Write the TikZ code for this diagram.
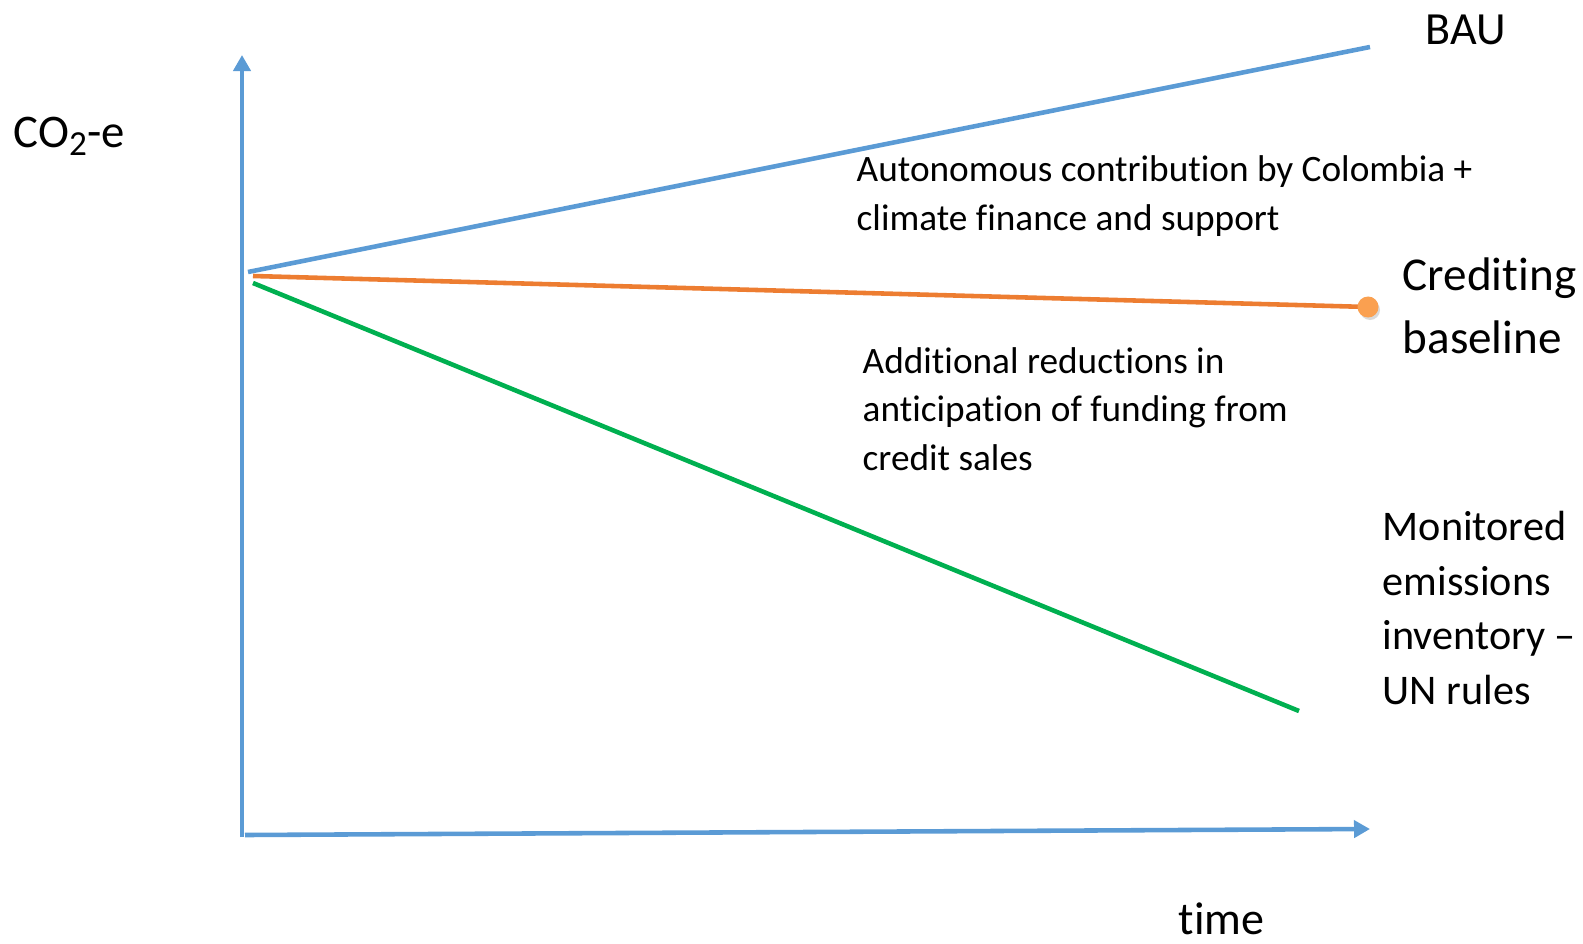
\documentclass[tikz,border=0pt]{standalone}
\usepackage{fontspec}
\setmainfont{Carlito}[Ligatures={NoCommon,NoContextual}]
\usetikzlibrary{arrows.meta,calc}
\definecolor{axisblue}{RGB}{91,155,213}
\definecolor{baseorange}{RGB}{237,125,49}
\definecolor{dotorange}{RGB}{250,160,80}
\definecolor{invgreen}{RGB}{0,176,80}
\tikzset{
	% line and arrow look
	plotline/.style={line width=1.3pt},
	axistip/.style={-{Triangle[length=0.16cm,width=0.17cm]}},
	% text alignment
	smalltext/.style={anchor=west,inner sep=0pt,align=left,font=\fontsize{10.6}{13.8}\selectfont},
	midtext/.style={anchor=west,inner sep=0pt,align=left,font=\fontsize{12}{15.5}\selectfont},
	bigtext/.style={anchor=west,inner sep=0pt,align=left,font=\fontsize{13.4}{17.8}\selectfont}
}
\begin{document}
\begin{tikzpicture}[x=0.01cm,y=-0.01cm]
		\useasboundingbox (0,0) rectangle (1583,943);
		\draw [axisblue, plotline, axistip] (242,837) coordinate (o) -- (242,55) coordinate (ytop);
		\draw [axisblue, plotline, axistip] (245,835) coordinate (xstart) -- (1370,829) coordinate (xtop);
		\draw [axisblue, plotline] (248,272) coordinate (a) -- (1370,47) coordinate (b);
		\draw [baseorange, plotline] (253,276) coordinate (c) -- (1368,307) coordinate (d);
		\draw [invgreen, plotline] (253,283) coordinate (e) -- (1299,711) coordinate (f);
		\fill [black, opacity=0.15] ($(d)+(2,3)$) circle (0.1cm);
		\fill [dotorange] (d) circle (0.105cm);
		\node [midtext] (co2) at (13,136) {\fontsize{13.3}{16}\selectfont CO\raisebox{-0.35ex}{\fontsize{10}{12}\selectfont 2}-e};
		\node [midtext] (bau) at (1425,30) {\fontsize{13.1}{16}\selectfont BAU};
		\node [midtext] (time) at (1178,919) {\fontsize{13.1}{16}\selectfont time};
		\node [smalltext] (auton) at (856,196) {Autonomous contribution by Colombia +\\climate finance and support};
		\node [smalltext] (addit) at (862,409) {Additional reductions in\\anticipation of funding from\\credit sales};
		\node [bigtext] (credit) at (1402,306) {Crediting\\baseline};
		\node [midtext] (monit) at (1382,608) {Monitored\\emissions\\inventory --\\UN rules};
	\end{tikzpicture}
\end{document}
